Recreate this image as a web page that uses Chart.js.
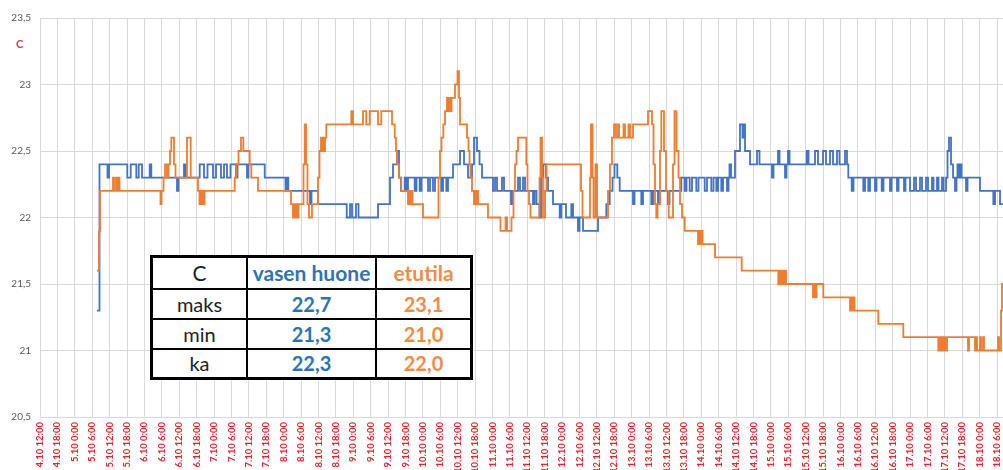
<!DOCTYPE html>
<html lang="fi">
<head>
<meta charset="utf-8">
<title>Lämpötilat 4.10–18.10</title>
<script src="https://cdn.jsdelivr.net/npm/chart.js@4.4.1/dist/chart.umd.min.js"></script>
<style>
  html, body { margin: 0; padding: 0; background: #fff; overflow: hidden; }
  #wrap { position: relative; width: 1003px; height: 470px; }
  #unit {
    position: absolute; left: 16px; top: 37px;
    font: bold 11px Lato, "Liberation Sans", sans-serif; color: #d63c4c;
  }
  #stats {
    position: absolute; left: 150px; top: 255px;
    width: 323px; height: 123px;
    border-collapse: collapse; table-layout: fixed;
    border: 3px solid #000; background: #fff;
    font-family: Lato, "Liberation Sans", sans-serif; font-size: 20px;
  }
  #stats td { border: 2px solid #000; text-align: center; padding: 0; color: #1e1e1e; line-height: 1; }
  #stats tr:first-child td { font-size: 21px; }
  #stats .blue { color: #2e74b5; font-weight: bold; }
  #stats .orange { color: #f08c46; font-weight: bold; }
</style>
</head>
<body>
<div id="wrap">
  <canvas id="chart" width="1003" height="470"></canvas>
  <span id="unit">C</span>
  <table id="stats"></table>
</div>
<script>
// Time axis: hours since 4.10 12:00. Each pair is [hour, °C]; the value holds until the next pair.
const vasenHuone = [
  [19.65,21.3],[20.51,22.4],[23.27,22.3],[23.79,22.4],[30.10,22.3],[31.27,22.4],[33.20,22.3],[34.03,22.4],
  [35.17,22.3],[37.82,22.4],[38.37,22.3],[47.23,22.2],[47.75,22.3],[49.65,22.4],[50.16,22.3],[55.06,22.4],
  [56.54,22.3],[57.75,22.4],[59.64,22.3],[60.68,22.4],[62.40,22.3],[63.44,22.4],[64.47,22.3],[65.68,22.4],
  [67.57,22.3],[68.09,22.4],[71.37,22.3],[71.88,22.4],[77.47,22.3],[84.64,22.2],[84.98,22.3],[85.60,22.2],
  [93.09,22.1],[93.60,22.2],[95.84,22.1],[105.74,22.0],[106.88,22.1],[107.57,22.0],[108.94,22.1],[109.81,22.0],
  [116.53,22.1],[120.67,22.3],[121.70,22.4],[123.08,22.5],[123.77,22.3],[124.46,22.2],[125.73,22.3],[126.29,22.2],
  [126.87,22.3],[129.18,22.2],[129.80,22.3],[130.91,22.2],[131.53,22.3],[133.77,22.2],[134.46,22.3],[135.49,22.2],
  [136.18,22.3],[138.35,22.2],[138.94,22.3],[140.08,22.2],[140.66,22.3],[142.39,22.4],[144.80,22.5],[146.18,22.4],
  [147.56,22.3],[148.94,22.4],[149.63,22.6],[150.66,22.5],[151.52,22.4],[152.38,22.3],[156.18,22.2],[156.87,22.3],
  [157.56,22.2],[159.28,22.3],[159.97,22.2],[162.38,22.1],[162.90,22.2],[164.80,22.3],[165.48,22.2],[166.52,22.3],
  [167.21,22.2],[169.97,22.1],[170.48,22.2],[171.17,22.1],[172.21,22.0],[172.73,22.3],[173.41,22.4],[174.45,22.3],
  [175.14,22.2],[176.86,22.1],[179.17,22.0],[179.72,22.1],[181.34,22.0],[183.17,22.1],[183.76,22.0],[185.48,21.9],
  [186.00,22.0],[187.21,21.9],[192.38,22.0],[195.24,22.1],[196.41,22.2],[197.38,22.3],[198.06,22.4],[199.03,22.3],
  [199.86,22.2],[204.44,22.1],[204.96,22.2],[207.30,22.1],[207.89,22.2],[210.75,22.1],[211.34,22.2],[213.06,22.1],
  [213.58,22.2],[216.51,22.1],[217.03,22.2],[221.09,22.3],[222.26,22.2],[222.89,22.3],[223.99,22.2],[224.78,22.3],
  [226.26,22.2],[227.02,22.3],[229.16,22.2],[229.95,22.3],[231.44,22.2],[232.20,22.3],[233.16,22.2],[233.75,22.3],
  [234.88,22.2],[235.47,22.3],[236.85,22.2],[237.37,22.3],[237.71,22.4],[238.23,22.3],[239.61,22.5],[241.33,22.7],
  [242.19,22.6],[242.54,22.7],[243.06,22.5],[244.78,22.4],[247.19,22.5],[248.05,22.4],[252.36,22.3],[252.88,22.4],
  [254.44,22.5],[254.95,22.4],[256.85,22.3],[257.36,22.4],[257.88,22.5],[258.40,22.4],[264.33,22.5],[264.95,22.4],
  [267.19,22.5],[268.22,22.4],[269.95,22.5],[270.98,22.4],[272.36,22.5],[273.39,22.4],[274.77,22.5],[275.63,22.4],
  [277.53,22.5],[278.22,22.4],[278.67,22.3],[279.84,22.2],[280.46,22.3],[283.84,22.2],[284.43,22.3],[285.56,22.2],
  [286.15,22.3],[287.87,22.2],[288.39,22.3],[290.18,22.2],[290.80,22.3],[293.05,22.2],[293.56,22.3],[295.46,22.2],
  [295.98,22.3],[297.87,22.2],[298.39,22.3],[299.94,22.2],[301.32,22.3],[302.01,22.2],[303.39,22.3],[304.08,22.2],
  [305.46,22.3],[306.15,22.2],[307.53,22.3],[308.04,22.2],[309.25,22.3],[309.77,22.2],[310.98,22.3],[311.49,22.2],
  [312.36,22.3],[312.87,22.5],[313.39,22.6],[314.08,22.4],[314.77,22.3],[315.46,22.2],[315.97,22.3],[316.31,22.4],
  [316.83,22.3],[317.18,22.4],[317.70,22.3],[319.26,22.2],[319.77,22.3],[324.07,22.2],[328.66,22.1],[329.25,22.2],
  [330.97,22.1],[332.0,22.1]
];

const etutila = [
  [19.65,21.6],[20.34,21.9],[20.69,22.2],[25.17,22.3],[25.51,22.2],[26.20,22.3],[26.55,22.2],[27.06,22.3],
  [27.41,22.2],[41.54,22.1],[41.89,22.2],[42.58,22.3],[43.10,22.4],[43.78,22.3],[44.30,22.4],[44.82,22.5],
  [45.27,22.6],[46.20,22.4],[46.71,22.3],[50.68,22.6],[51.96,22.3],[54.47,22.2],[54.99,22.1],[55.33,22.2],
  [55.68,22.1],[56.02,22.2],[56.37,22.1],[56.71,22.2],[67.12,22.3],[67.68,22.4],[68.43,22.5],[69.30,22.6],
  [70.09,22.5],[72.30,22.4],[72.85,22.3],[75.16,22.2],[86.53,22.1],[87.22,22.0],[87.57,22.1],[87.91,22.0],
  [88.26,22.1],[88.60,22.0],[89.12,22.1],[90.84,22.4],[91.26,22.7],[91.71,22.4],[92.22,22.1],[92.74,22.0],
  [93.77,22.1],[95.84,22.3],[96.36,22.5],[96.88,22.6],[97.22,22.5],[97.57,22.6],[97.91,22.5],[98.26,22.6],
  [98.70,22.7],[107.32,22.8],[107.91,22.7],[111.36,22.8],[112.49,22.7],[113.67,22.8],[116.53,22.7],[117.66,22.8],
  [121.36,22.7],[122.29,22.6],[122.73,22.5],[123.08,22.4],[123.77,22.3],[124.56,22.2],[126.87,22.1],[127.39,22.2],
  [127.73,22.1],[128.08,22.2],[128.42,22.1],[132.05,22.0],[137.39,22.3],[137.91,22.5],[138.42,22.6],[139.04,22.7],
  [139.63,22.8],[140.32,22.9],[140.66,22.8],[141.01,22.9],[141.36,22.8],[141.87,22.9],[143.08,23.0],[143.94,23.1],
  [144.46,22.9],[144.80,22.7],[147.22,22.6],[147.73,22.5],[148.08,22.4],[148.42,22.3],[148.94,22.2],[149.63,22.1],
  [149.97,22.2],[150.31,22.1],[150.67,22.2],[151.01,22.1],[154.45,22.0],[158.76,21.9],[160.49,22.0],[161.00,21.9],
  [162.55,22.0],[163.24,22.2],[163.76,22.4],[164.28,22.5],[164.80,22.6],[167.66,22.4],[168.07,22.2],[168.59,22.1],
  [169.10,22.0],[172.21,22.3],[172.55,22.6],[173.07,22.3],[173.41,22.0],[174.10,22.2],[174.62,22.4],[186.51,22.2],
  [187.03,22.0],[189.62,22.3],[189.96,22.7],[190.48,22.3],[190.83,22.0],[191.51,22.4],[192.03,22.0],[195.83,22.2],
  [196.51,22.4],[197.20,22.6],[197.90,22.7],[198.58,22.6],[199.28,22.7],[199.62,22.6],[201.17,22.7],[201.68,22.6],
  [202.89,22.7],[203.41,22.6],[204.44,22.7],[209.61,22.8],[210.99,22.7],[211.51,22.4],[212.03,22.1],[212.47,22.0],
  [212.89,22.1],[213.75,22.5],[214.20,22.8],[215.13,22.5],[215.82,22.2],[216.75,22.0],[218.23,22.4],[218.75,22.8],
  [219.44,22.5],[220.13,22.3],[220.65,22.1],[221.34,22.0],[222.26,21.9],[226.85,21.8],[227.37,21.9],[227.71,21.8],
  [228.06,21.9],[228.40,21.8],[232.71,21.7],[241.92,21.6],[254.53,21.5],[254.95,21.6],[255.47,21.5],[255.81,21.6],
  [256.33,21.5],[256.67,21.6],[257.19,21.5],[266.50,21.4],[266.84,21.5],[267.19,21.4],[267.71,21.5],[270.05,21.4],
  [279.26,21.3],[279.60,21.4],[279.95,21.3],[280.30,21.4],[280.81,21.3],[289.01,21.2],[297.63,21.1],[309.70,21.0],
  [310.11,21.1],[310.63,21.0],[310.97,21.1],[311.49,21.0],[311.84,21.1],[312.36,21.0],[312.70,21.1],[319.94,21.0],
  [320.28,21.1],[322.35,21.0],[322.69,21.1],[323.04,21.0],[324.07,21.1],[324.42,21.0],[325.11,21.1],[325.45,21.0],
  [330.28,21.1],[330.63,21.0],[331.31,21.3],[331.66,21.5],[332.0,21.5]
];

// Summary table
const statHeader = ['C', 'vasen huone', 'etutila'];
const statRows = ['maks', 'min', 'ka'];
const vasenStats = [22.7, 21.3, 22.3];
const etutilaStats = [23.1, 21.0, 22.0];

// Axis settings
const yTicks = [20.5, 21, 21.5, 22, 22.5, 23, 23.5];
const hourStep = 6;
const hourMax = 332;

const fiNum = v => v.toFixed(1).replace('.', ',');
const hourLabel = h => {
  const t = 12 + h;
  return (4 + Math.floor(t / 24)) + '.10 ' + (t % 24) + ':00';
};

// Build the table
const table = document.getElementById('stats');
const head = table.insertRow();
head.style.height = '32px';
statHeader.forEach((txt, i) => {
  const c = head.insertCell();
  c.textContent = txt;
  if (i === 1) c.className = 'blue';
  if (i === 2) c.className = 'orange';
});
statRows.forEach((name, r) => {
  const row = table.insertRow();
  row.style.height = '30px';
  row.insertCell().textContent = name;
  const b = row.insertCell(); b.className = 'blue'; b.textContent = fiNum(vasenStats[r]);
  const o = row.insertCell(); o.className = 'orange'; o.textContent = fiNum(etutilaStats[r]);
});
table.rows[0].cells[0].style.width = '93px';
table.rows[0].cells[1].style.width = '127px';

const toXY = arr => arr.map(([h, v]) => ({ x: h, y: v }));

new Chart(document.getElementById('chart'), {
  type: 'line',
  data: {
    datasets: [
      { label: 'vasen huone', data: toXY(vasenHuone), borderColor: '#4472c4', order: 1 },
      { label: 'etutila', data: toXY(etutila), borderColor: '#ed7d31', order: 0 }
    ]
  },
  options: {
    responsive: false,
    animation: false,
    devicePixelRatio: 1,
    layout: { padding: { top: 18, left: 0, right: 0, bottom: 0 } },
    plugins: { legend: { display: false }, tooltip: { enabled: false } },
    elements: {
      point: { radius: 0 },
      line: { borderWidth: 1.8, stepped: true, tension: 0 }
    },
    scales: {
      x: {
        type: 'linear',
        min: 0,
        max: hourMax,
        border: { display: false },
        grid: { color: '#d9d9d9', lineWidth: 1, drawTicks: false },
        ticks: {
          stepSize: hourStep,
          includeBounds: false,
          autoSkip: false,
          minRotation: 90,
          maxRotation: 90,
          padding: 5,
          color: '#e3262e',
          font: { family: 'Lato', size: 9.5, weight: 'bold' },
          callback: v => hourLabel(v)
        },
        afterFit: s => { s.height = 53; s.paddingLeft = 0; s.paddingRight = 0; }
      },
      y: {
        min: yTicks[0],
        max: yTicks[yTicks.length - 1],
        border: { display: false },
        grid: { color: '#d9d9d9', lineWidth: 1, drawTicks: false },
        afterBuildTicks: s => { s.ticks = yTicks.map(v => ({ value: v })); },
        ticks: {
          padding: 9,
          color: '#595959',
          font: { family: 'Lato', size: 10 },
          callback: v => String(v).replace('.', ',')
        },
        afterFit: s => { s.width = 40; }
      }
    }
  }
});
</script>
</body>
</html>
